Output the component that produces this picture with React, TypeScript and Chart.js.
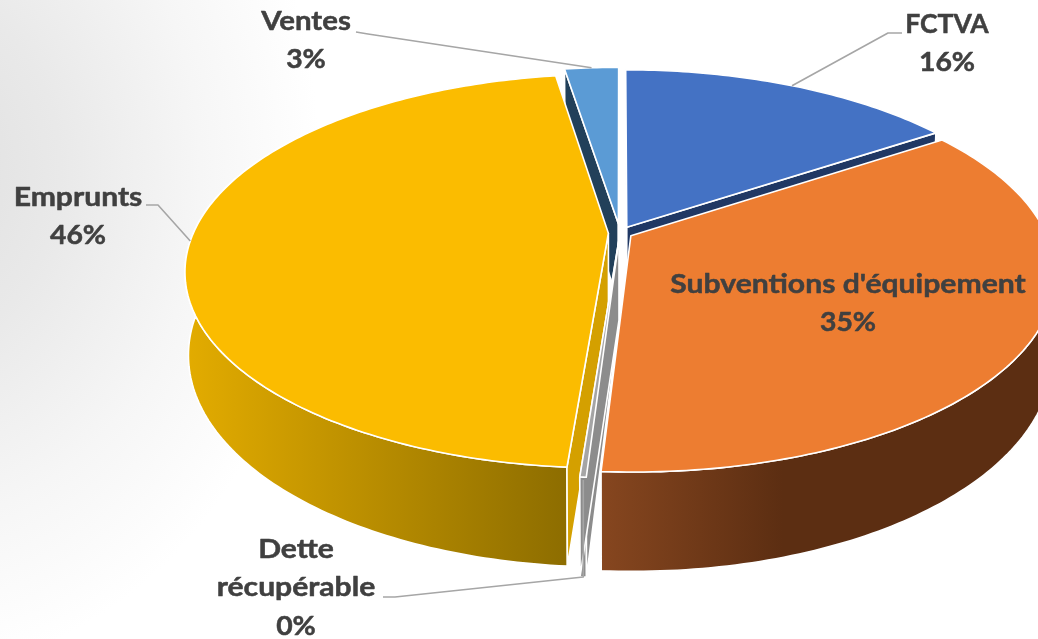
import React, { useEffect, useRef } from "react";
import { Chart, registerables } from "chart.js";

Chart.register(...registerables);

const categories = ["FCTVA", "Subventions d'équipement", "Dette récupérable", "Emprunts", "Ventes"];
const values = [15.6, 35.4, 0.2, 46.3, 2.5];
const topColors = ["#4472c4", "#ed7d31", "#a5a5a5", "#fbbc00", "#5b9bd5"];
const wallColors = ["#203864", "#7a3f18", "#8c8c8c", "#d4a000", "#22405a"];
const rimLeftColors = ["#203864", "#86461f", "#8c8c8c", "#e3ac00", "#22405a"];
const rimRightColors = ["#203864", "#5c2e12", "#8c8c8c", "#8d6d00", "#22405a"];
const explode = [0.035, 0.03, 0.035, 0.028, 0.05];
const paintOrder = [4, 0, 3, 2, 1];

const CX = 620, CY = 233, A = 415, B = 189.6, P = 0.192, DEPTH = 80, SHRINK = 0.008;

function project(u: number, v: number, z: number) {
  const w = 1 + P * v;
  const s = 1 - SHRINK * z;
  return { x: CX + (A * u / w) * s, y: CY - (B * v) / w + (DEPTH * z) / w };
}

const labelLayout = [
  { lines: ["FCTVA", "16%"], x: 947, y: 24, dy: 38, sx: [0.98, 1.05] },
  { lines: ["Subventions d'équipement", "35%"], x: 848, y: 284, dy: 38, sx: [1.115, 1.05] },
  { lines: ["Dette", "récupérable", "0%"], x: 296, y: 549, dy: 38.5, sx: [1.115, 1.115, 1.05] },
  { lines: ["Emprunts", "46%"], x: 78, y: 197, dy: 38, sx: [1.115, 1.05] },
  { lines: ["Ventes", "3%"], x: 306, y: 21, dy: 38, sx: [1.09, 1.05] },
];
const leaders: ({ x: number; y: number }[] | null)[] = [
  [{ x: 902, y: 33 }, { x: 888, y: 33 }],
  null,
  [{ x: 383, y: 597 }, { x: 395, y: 597 }],
  [{ x: 146, y: 205 }, { x: 158, y: 205 }],
  [{ x: 356, y: 32 }, { x: 368, y: 34 }],
];

const pie3d = {
  id: "pie3d",
  beforeDatasetDraw(chart: any) {
    const ctx: CanvasRenderingContext2D = chart.ctx;
    const arcs = chart.getDatasetMeta(0).data;
    ctx.save();
    ctx.lineJoin = "round";
    const geo = arcs.map((arc: any, i: number) => {
      const a0 = arc.startAngle + Math.PI / 2;
      const a1 = arc.endAngle + Math.PI / 2;
      const mid = (a0 + a1) / 2;
      const e = explode[i];
      const ox = e * Math.sin(mid), oy = e * Math.cos(mid);
      const pts: { u: number; v: number }[] = [];
      const n = Math.max(2, Math.ceil((a1 - a0) * 60));
      for (let k = 0; k <= n; k++) {
        const t = a0 + ((a1 - a0) * k) / n;
        pts.push({ u: ox + Math.sin(t), v: oy + Math.cos(t) });
      }
      return { ox, oy, pts, mid };
    });
    const poly = (list: { x: number; y: number }[], fill: any, lw = 1.6) => {
      ctx.beginPath();
      list.forEach((p, j) => (j ? ctx.lineTo(p.x, p.y) : ctx.moveTo(p.x, p.y)));
      ctx.closePath();
      ctx.fillStyle = fill;
      ctx.fill();
      ctx.strokeStyle = "#ffffff";
      ctx.lineWidth = lw;
      ctx.stroke();
    };
    for (const i of paintOrder) {
      const { ox, oy, pts } = geo[i];
      const top = pts.map((p: any) => project(p.u, p.v, 0));
      const bottom = pts.map((p: any) => project(p.u, p.v, 1)).reverse();
      const xs = top.map((p: any) => p.x);
      const g = ctx.createLinearGradient(Math.min(...xs), 0, Math.max(...xs), 0);
      g.addColorStop(0, rimLeftColors[i]);
      g.addColorStop(i === 1 ? 0.4 : 1, rimRightColors[i]);
      g.addColorStop(1, rimRightColors[i]);
      poly([...top, ...bottom], g);
      // a wall shows only if going down the screen from its edge leaves the slice
      const tip = project(ox, oy, 0);
      const inner = top[Math.floor(top.length / 2)];
      for (const edge of [pts[0], pts[pts.length - 1]]) {
        const end = project(edge.u, edge.v, 0);
        const ex = end.x - tip.x, ey = end.y - tip.y;
        const side = ex * (inner.y - tip.y) - ey * (inner.x - tip.x);
        if (ex * side < 0 || i === 2) {
          poly([tip, end, project(edge.u, edge.v, 1), project(ox, oy, 1)], wallColors[i]);
        }
      }
      poly([tip, ...top], topColors[i]);
    }
    // leader lines
    ctx.strokeStyle = "#a6a6a6";
    ctx.lineWidth = 1.6;
    geo.forEach((g: any, i: number) => {
      const route = leaders[i];
      if (!route) return;
      const end = project(g.ox + Math.sin(g.mid), g.oy + Math.cos(g.mid), i === 2 ? 1 : 0);
      ctx.beginPath();
      route.forEach((p, j) => (j ? ctx.lineTo(p.x, p.y) : ctx.moveTo(p.x, p.y)));
      ctx.lineTo(end.x, end.y);
      if (i === 2) ctx.lineTo(end.x, end.y - 97);
      ctx.stroke();
    });
    // labels
    ctx.fillStyle = "#404040";
    ctx.strokeStyle = "#404040";
    ctx.lineWidth = 0.5;
    ctx.font = "700 27px Lato";
    ctx.textAlign = "center";
    ctx.textBaseline = "middle";
    labelLayout.forEach((l) => {
      l.lines.forEach((line, j) => {
        ctx.save();
        ctx.translate(l.x, l.y + j * l.dy);
        ctx.scale(l.sx[j], 1);
        ctx.fillText(line, 0, 0);
        ctx.strokeText(line, 0, 0);
        ctx.restore();
      });
    });
    ctx.restore();
    return false;
  },
};

export default function App() {
  const ref = useRef<HTMLCanvasElement>(null);
  useEffect(() => {
    const chart = new Chart(ref.current!, {
      type: "pie",
      data: {
        labels: categories,
        datasets: [{ data: values, backgroundColor: topColors, borderColor: "#ffffff" }],
      },
      options: {
        animation: false,
        responsive: false,
        events: [],
        plugins: { legend: { display: false }, tooltip: { enabled: false } },
      },
      plugins: [pie3d],
    } as any);
    return () => chart.destroy();
  }, []);
  return (
    <div
      style={{
        position: "fixed",
        inset: 0,
        background:
          "radial-gradient(ellipse 400px 500px at -80px 170px, #dfdfdf 0%, #e9e9e9 35%, #f6f6f6 70%, #ffffff 100%)",
      }}
    >
      <canvas ref={ref} width={1038} height={639} style={{ display: "block" }} />
    </div>
  );
}
